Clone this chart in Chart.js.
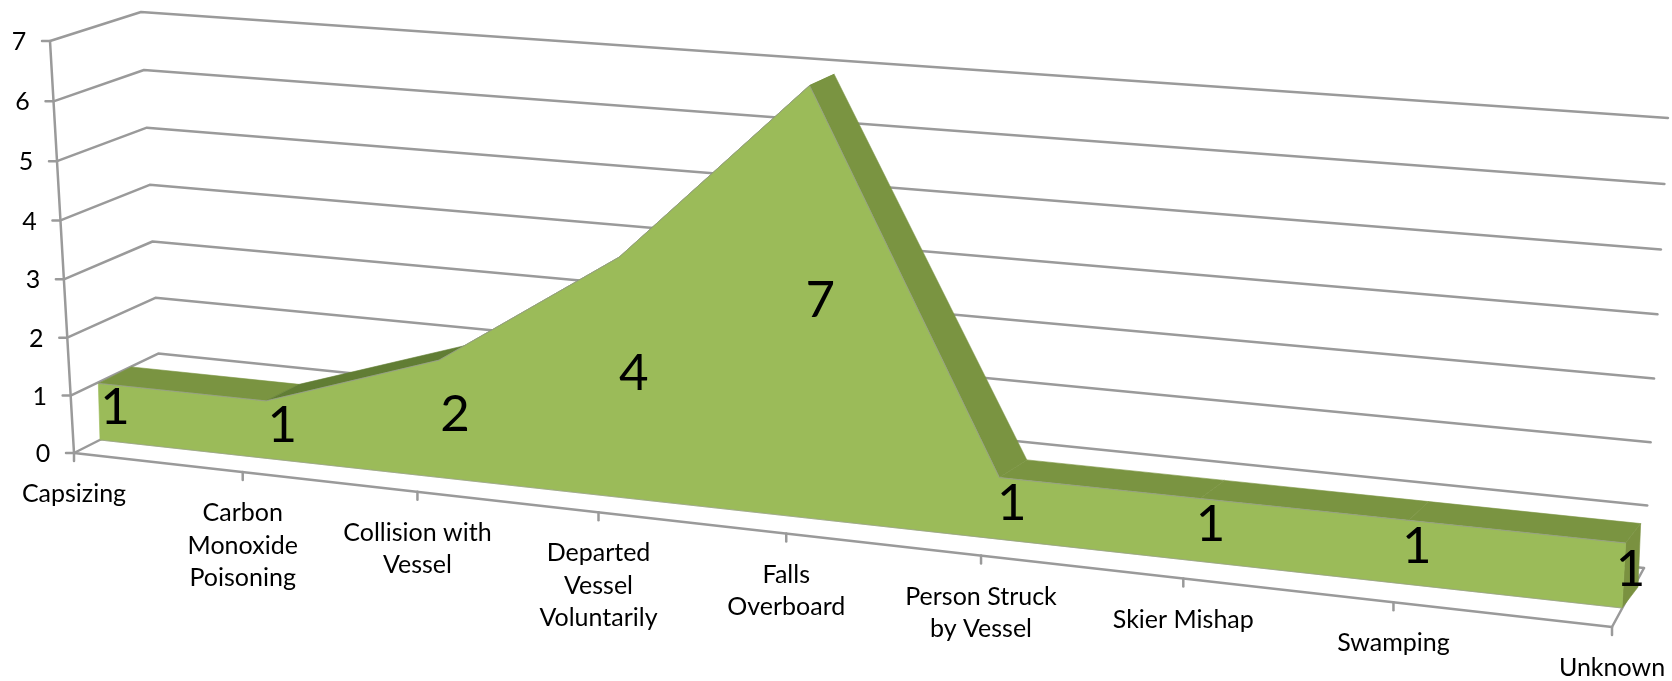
<!DOCTYPE html>
<html>
<head>
<meta charset="utf-8">
<title>Fatalities by accident type</title>
<style>
  html, body { margin: 0; background: #fff; }
  canvas { display: block; }
</style>
<script src="https://cdn.jsdelivr.net/npm/chart.js@4"></script>
</head>
<body>
<canvas id="areaChart" width="1672" height="681"></canvas>
<script>
const categories = [
  "Capsizing",
  ["Carbon", "Monoxide", "Poisoning"],
  ["Collision with", "Vessel"],
  ["Departed", "Vessel", "Voluntarily"],
  ["Falls", "Overboard"],
  ["Person Struck", "by Vessel"],
  "Skier Mishap",
  "Swamping",
  "Unknown",
]
const fatalities = [1, 1, 2, 4, 7, 1, 1, 1, 1]
const yTicks = [0, 1, 2, 3, 4, 5, 6, 7]

// Excel style 3D view: each depth plane is the screen quad of the plot (BL, BR, TR, TL)
const planes = {
  axis: quadMap([[74, 453], [1612, 627], [1636, 153], [50, 41]]),
  front: quadMap([[100, 440], [1622, 608], [1648, 143], [88, 36]]),
  back: quadMap([[134, 423], [1638, 587], [1657, 133], [116, 23]]),
  wall: quadMap([[161, 409], [1644, 568], [1668, 118], [141, 12]]),
}

const gridColor = "#9a9a9a"
const faceColor = "#9bbb59"
const topColor = "#7a9441"
const risingColor = "#617d34"
const sideColor = "#7a9140"
const labelFont = "Lato, 'Open Sans', sans-serif"

// unit square to quad, returns (u, v) => screen point
function quadMap(q) {
  const [[x0, y0], [x1, y1], [x2, y2], [x3, y3]] = q
  const sx = x0 - x1 + x2 - x3
  const sy = y0 - y1 + y2 - y3
  const dx1 = x1 - x2
  const dx2 = x3 - x2
  const dy1 = y1 - y2
  const dy2 = y3 - y2
  const den = dx1 * dy2 - dx2 * dy1
  const g = (sx * dy2 - dx2 * sy) / den
  const h = (dx1 * sy - sx * dy1) / den
  const a = x1 - x0 + g * x1
  const b = x3 - x0 + h * x3
  const d = y1 - y0 + g * y1
  const e = y3 - y0 + h * y3
  return (u, v) => {
    const w = g * u + h * v + 1
    return { x: (a * u + b * v + x0) / w, y: (d * u + e * v + y0) / w }
  }
}

// chart pixel -> picture pixel on the given plane
function project(chart, plane, px, py) {
  const { left, bottom, width, height } = chart.chartArea
  return planes[plane]((px - left) / width, (bottom - py) / height)
}

function at(chart, plane, index, value) {
  const { x, y } = chart.scales
  return project(chart, plane, x.getPixelForValue(index), y.getPixelForValue(value))
}

function segment(ctx, a, b) {
  ctx.beginPath()
  ctx.moveTo(a.x, a.y)
  ctx.lineTo(b.x, b.y)
  ctx.stroke()
}

function polygon(ctx, pts, color) {
  ctx.fillStyle = color
  ctx.strokeStyle = color
  ctx.lineWidth = 0.6
  ctx.beginPath()
  pts.forEach((p, i) => (i ? ctx.lineTo(p.x, p.y) : ctx.moveTo(p.x, p.y)))
  ctx.closePath()
  ctx.fill()
  ctx.stroke()
}

function drawWalls(chart) {
  const ctx = chart.ctx
  const last = categories.length - 1
  ctx.save()
  ctx.strokeStyle = gridColor
  ctx.lineWidth = 2.5
  ctx.lineJoin = "round"
  ctx.lineCap = "round"

  yTicks.forEach((tick) => {
    const start = at(chart, "axis", 0, tick)
    const corner = at(chart, "wall", 0, tick)
    const end = at(chart, "wall", last, tick)
    ctx.beginPath()
    ctx.moveTo(start.x - 8, start.y)
    ctx.lineTo(start.x, start.y)
    ctx.lineTo(corner.x, corner.y)
    ctx.lineTo(end.x, end.y)
    ctx.stroke()
  })

  // y axis and floor
  segment(ctx, at(chart, "axis", 0, 0), at(chart, "axis", 0, yTicks[yTicks.length - 1]))
  segment(ctx, at(chart, "axis", 0, 0), at(chart, "axis", last, 0))
  segment(ctx, at(chart, "axis", last, 0), at(chart, "wall", last, 0))
  categories.forEach((cat, i) => {
    const p = at(chart, "axis", i, 0)
    segment(ctx, p, { x: p.x, y: p.y + 8 })
  })
  ctx.restore()
}

function drawRibbon(chart) {
  const ctx = chart.ctx
  const last = categories.length - 1
  const frontTop = chart.getDatasetMeta(0).data
  const backTop = chart.getDatasetMeta(1).data

  ctx.save()
  polygon(ctx, [frontTop[last], backTop[last], at(chart, "back", last, 0), at(chart, "front", last, 0)], sideColor)

  for (let i = 0; i < last; i++) {
    const rising = fatalities[i + 1] > fatalities[i]
    polygon(ctx, [frontTop[i], frontTop[i + 1], backTop[i + 1], backTop[i]], rising ? risingColor : topColor)
  }

  const base = categories.map((cat, i) => at(chart, "front", i, 0)).reverse()
  polygon(ctx, [...frontTop, ...base], faceColor)

  ctx.strokeStyle = "rgba(150, 150, 150, 0.6)"
  ctx.lineWidth = 1
  segment(ctx, base[0], base[base.length - 1])
  ctx.restore()
}

function drawText(chart) {
  const ctx = chart.ctx
  ctx.save()
  ctx.fillStyle = "#000"
  ctx.textAlign = "center"
  ctx.textBaseline = "middle"

  ctx.font = "25px " + labelFont
  yTicks.forEach((tick) => {
    const p = at(chart, "axis", 0, tick)
    ctx.fillText(String(tick), p.x - 31, p.y + 1)
  })

  categories.forEach((cat, i) => {
    const p = at(chart, "axis", i, 0)
    const lines = Array.isArray(cat) ? cat : [cat]
    lines.forEach((line, n) => ctx.fillText(line, p.x, p.y + 41 + n * 32.5))
  })

  // value labels sit half way up, midway through the ribbon depth
  ctx.font = "51px " + labelFont
  fatalities.forEach((value, i) => {
    const a = at(chart, "front", i, value / 2)
    const b = at(chart, "back", i, value / 2)
    ctx.fillText(String(value), (a.x + b.x) / 2 - 1, (a.y + b.y) / 2 + 4)
  })
  ctx.restore()
}

const perspective3d = {
  id: "perspective3d",
  afterDatasetsUpdate(chart) {
    chart.data.datasets.forEach((ds, i) => {
      chart.getDatasetMeta(i).data.forEach((pt) => {
        const p = project(chart, ds.plane, pt.x, pt.y)
        pt.x = p.x
        pt.y = p.y
      })
    })
  },
  beforeDatasetsDraw(chart) {
    drawWalls(chart)
    drawRibbon(chart)
  },
  afterDatasetsDraw(chart) {
    drawText(chart)
  },
}

new Chart(document.getElementById("areaChart").getContext("2d"), {
  type: "line",
  data: {
    labels: categories,
    datasets: [
      {
        data: fatalities,
        plane: "front",
        borderColor: "rgba(150, 150, 150, 0.7)",
        borderWidth: 1,
        pointRadius: 0,
        clip: false,
      },
      {
        data: fatalities,
        plane: "back",
        borderWidth: 0,
        pointRadius: 0,
        clip: false,
      },
    ],
  },
  options: {
    responsive: false,
    animation: false,
    events: [],
    layout: { padding: 0 },
    plugins: {
      legend: { display: false },
      tooltip: { enabled: false },
    },
    scales: {
      x: { display: false, offset: false },
      y: { display: false, min: 0, max: 7 },
    },
  },
  plugins: [perspective3d],
})
</script>
</body>
</html>
